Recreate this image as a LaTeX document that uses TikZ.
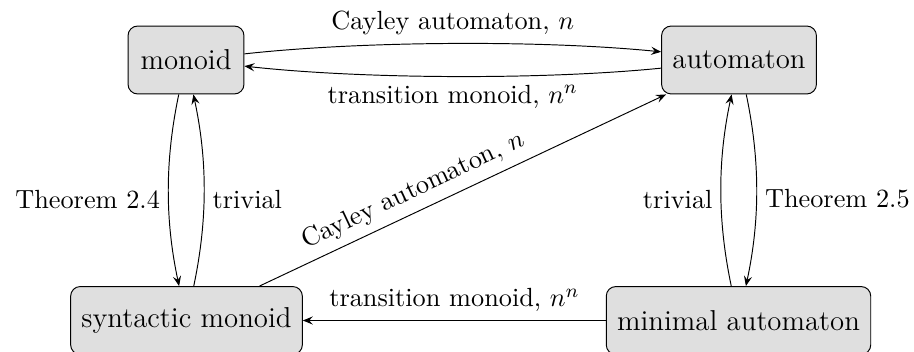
\documentclass[tikz,border=0pt]{standalone}
\usetikzlibrary{arrows.meta}
\begin{document}
\begin{tikzpicture}[x=0.4167pt,y=-0.4167pt,
  box/.style={draw, fill=gray!25, rounded corners=4pt, minimum height=28.3pt,
    minimum width=48.3pt, inner xsep=4.5pt, font=\fontsize{12}{14}\selectfont},
  lbl/.style={font=\fontsize{10.95}{13}\selectfont},
  arr/.style={-{Stealth[length=4.2pt, width=3.4pt, inset=1.6pt]}, line width=0.4pt}]
\useasboundingbox (0,0) rectangle (914,352);
% objects
\node[box] (mon) at (186,60) {monoid};
\node[box] (aut) at (739,60) {automaton};
\node[box] (syn) at (186.5,320.5) {syntactic monoid};
\node[box] (min) at (738.5,320.5) {minimal automaton};
% top pair
\draw[arr] (mon) to[bend left=6, looseness=0.73]
  node[lbl, above] {Cayley automaton, $n$} (aut);
\draw[arr] (aut) to[bend left=6, looseness=0.73]
  node[lbl, below] {transition monoid, $n^n$} (mon);
% left pair
\draw[arr] (mon) to[bend right=12, looseness=0.9]
  node[lbl, left, yshift=-3.7pt] {Theorem 2.4} (syn);
\draw[arr] (syn) to[bend right=12, looseness=0.9]
  node[lbl, right, yshift=-3.7pt] {trivial} (mon);
% right pair
\draw[arr] (min) to[bend left=12, looseness=0.9]
  node[lbl, left, yshift=-3.7pt] {trivial} (aut);
\draw[arr] (aut) to[bend left=12, looseness=0.9]
  node[lbl, right, yshift=-3.7pt] {Theorem 2.5} (min);
% bottom and diagonal
\draw[arr] (min) -- node[lbl, above] {transition monoid, $n^n$} (syn);
\draw[arr] (syn) -- node[lbl, above, sloped, pos=0.4] {Cayley automaton, $n$} (aut);
\end{tikzpicture}
\end{document}
